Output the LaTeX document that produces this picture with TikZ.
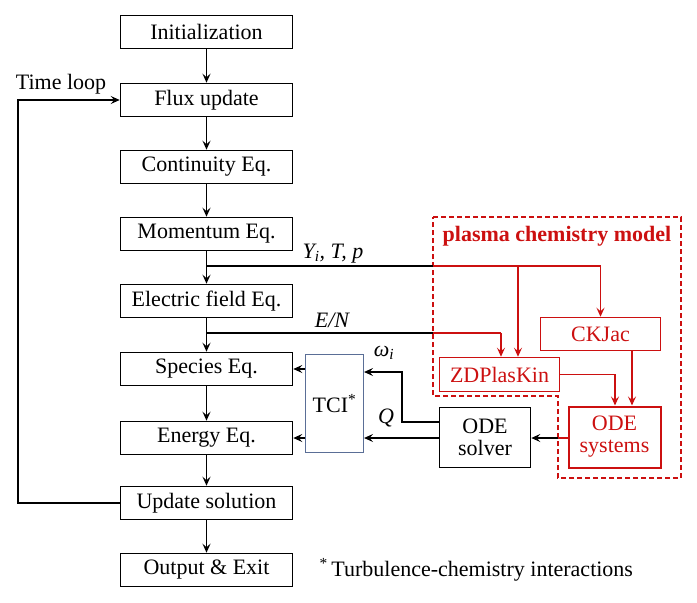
\documentclass[tikz,border=0pt]{standalone}
\usepackage{fontspec}
\setmainfont{Liberation Serif}
\usetikzlibrary{arrows.meta,calc}
\definecolor{pred}{RGB}{204,16,16}
\definecolor{tciblue}{RGB}{90,110,150}
\begin{document}
\begin{tikzpicture}[x=1pt,y=-1pt,
  font=\fontsize{22}{25}\selectfont,
  mainbox/.style={draw=black,line width=1.6pt,minimum width=172pt,minimum height=33pt,inner sep=0pt},
  redbox/.style={draw=pred,text=pred,line width=1.5pt,inner sep=0pt},
  arr/.style={-{Stealth[length=9pt,width=8pt,inset=3.5pt]},line width=1.4pt},
  lin/.style={line width=1.4pt}]
\useasboundingbox (0,0) rectangle (697,603);
% main column
\node[mainbox] (init) at (206.5,32) {Initialization};
\node[mainbox] (flux) at (206.5,100) {Flux update};
\node[mainbox] (cont) at (206.5,167) {Continuity Eq.};
\node[mainbox] (mom)  at (206.5,234) {Momentum Eq.};
\node[mainbox] (elec) at (206.5,301) {Electric field Eq.};
\node[mainbox] (spec) at (206.5,369) {Species Eq.};
\node[mainbox] (ener) at (206.5,438) {Energy Eq.};
\node[mainbox] (upd)  at (206.5,503) {Update solution};
\node[mainbox] (out)  at (206.5,570) {Output \& Exit};
\foreach \a/\b in {init/flux,flux/cont,cont/mom,mom/elec,elec/spec,spec/ener,ener/upd,upd/out}
  \draw[arr] (\a.south) -- (\b.north);
% time loop
\coordinate (tl1) at (18,503);
\coordinate (tl2) at (18,100);
\draw[arr] (upd.west) -- (tl1) -- (tl2) -- (flux.west);
\node (tll) at (61,84) {Time loop};
% TCI and ODE solver
\node[draw=tciblue,line width=1.1pt,minimum width=58pt,minimum height=98pt,inner sep=0pt] (tci) at (334.5,403.5) {TCI\textsuperscript{*}};
\node[draw=black,line width=1.6pt,minimum width=91pt,minimum height=60pt,inner sep=0pt,align=center] (ode) at (485,437.5) {ODE\\[-3pt]solver};
\draw[arr] (tci.west |- spec) -- (spec.east);
\draw[arr] (tci.west |- ener) -- (ener.east);
\coordinate (w1) at (ode.west |- 0,422);
\coordinate (w2) at (402,422);
\coordinate (w3) at (402,372);
\draw[arr] (w1) -- (w2) -- (w3) -- (tci.east |- w3);
\draw[arr] (ode.west |- 0,438) -- (tci.east |- 0,438);
\node (wl) at (384,353) {\itshape ω\textsubscript{i}};
\node (ql) at (386,418) {\itshape Q};
% red part
\node[redbox,minimum width=120pt,minimum height=34pt] (zdp) at (499.5,374.5) {ZDPlasKin};
\node[redbox,minimum width=120pt,minimum height=33pt] (ckj) at (600.5,334) {CKJac};
\node[redbox,line width=2pt,minimum width=92pt,minimum height=61pt,align=center] (odes) at (614.5,437) {ODE\\[-3pt]systems};
\draw[pred,line width=1.3pt,dash pattern=on 5pt off 3pt] (433,217) -- (681,217) -- (681,478) -- (558,478) -- (558,396) -- (433,396) -- cycle;
\node[text=pred,font=\fontsize{22}{25}\selectfont\bfseries] (pcm) at (557,236) {plasma chemistry model};
% Yi,T,p
\coordinate (y0) at (206.5,266);
\coordinate (yb) at (433,266);
\coordinate (yz) at (518,266);
\coordinate (yc) at (600.5,266);
\draw[lin] (y0) -- (yb);
\draw[lin,pred] (yb) -- (yc);
\draw[arr,pred] (yc) -- (ckj.north);
\draw[arr,pred] (yz) -- (yz |- zdp.north);
\node (yl) at (333,254) {\itshape Y\textsubscript{i}, T, p};
% E/N
\coordinate (e0) at (206.5,333);
\coordinate (eb) at (433,333);
\coordinate (ez) at (501,333);
\draw[lin] (e0) -- (eb);
\draw[lin,pred] (eb) -- (ez);
\draw[arr,pred] (ez) -- (ez |- zdp.north);
\node (el) at (332,320) {\itshape E/N};
% red inner arrows
\coordinate (z1) at (615,374.5);
\draw[arr,pred] (zdp.east) -- (z1) -- (z1 |- odes.north);
\draw[arr,pred] (632,351) coordinate (c1) -- (c1 |- odes.north);
% systems -> solver
\coordinate (sb) at (558,438);
\draw[lin,pred] (odes.west |- sb) -- (sb);
\draw[arr] (sb) -- (ode.east |- sb);
% footnote
\node[anchor=west] (fn) at (316,570) {\textsuperscript{*}\,Turbulence-chemistry interactions};
\end{tikzpicture}
\end{document}
